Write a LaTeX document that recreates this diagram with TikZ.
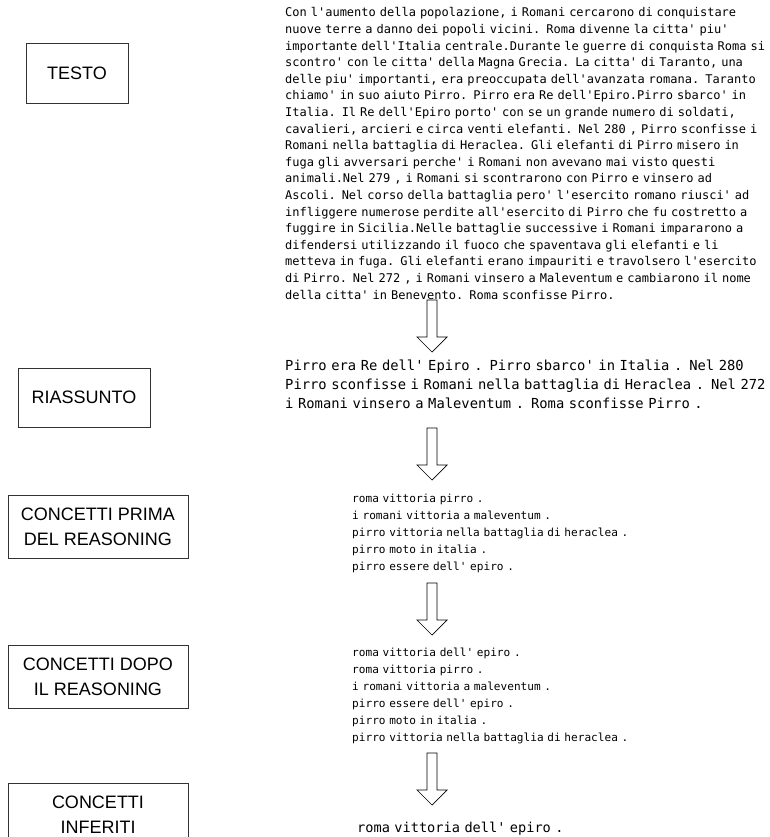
\documentclass[tikz,border=0pt]{standalone}
\usepackage{fontspec}
\setsansfont{Liberation Sans}
\setmonofont{DejaVu Sans Mono}[WordSpace={1,0,0}]

\tikzset{
  etichetta/.style={draw=black!80, line width=0.9pt, align=center,
    font=\sffamily\fontsize{18}{25}\selectfont},
  brano/.style={anchor=base west, inner sep=0pt, align=left, text width=#1,
    font=\ttfamily\fontsize{12}{16.6}\selectfont},
  elenco/.style={anchor=base west, inner sep=0pt, align=left, text width=#1,
    font=\ttfamily\fontsize{11.1}{17}\selectfont},
  grande/.style={anchor=base west, inner sep=0pt, align=left, text width=#1,
    font=\ttfamily\fontsize{13.8}{19}\selectfont},
  freccia/.pic={\draw[line width=0.7pt] (-5,0) -- (5,0) -- (5,37) -- (15,37)
    -- (0,52) -- (-15,37) -- (-5,37) -- cycle;}
}

\begin{document}
\begin{tikzpicture}[x=1pt, y=-1pt]
  \useasboundingbox (0,0) rectangle (770,837);

  % riquadri a sinistra
  \node[etichetta, minimum width=102pt, minimum height=60pt] (testo) at (77,73) {TESTO};
  \node[etichetta, minimum width=132pt, minimum height=59pt] (riassunto) at (84,397.5) {RIASSUNTO};
  \node[etichetta, minimum width=180pt, minimum height=63pt] (prima) at (98,526.5) {CONCETTI PRIMA\\DEL REASONING};
  \node[etichetta, minimum width=180pt, minimum height=63pt] (dopo) at (98,676.5) {CONCETTI DOPO\\IL REASONING};
  \node[etichetta, minimum width=180pt, minimum height=63pt] (inferiti) at (98,814.5) {CONCETTI\\INFERITI};

  % testo originale
  \node[brano=500pt] (brano) at (285,17) {Con l'aumento della popolazione, i Romani cercarono di conquistare\\
nuove terre a danno dei popoli vicini. Roma divenne la citta' piu'\\
importante dell'Italia centrale.Durante le guerre di conquista Roma si\\
scontro' con le citta' della Magna Grecia. La citta' di Taranto, una\\
delle piu' importanti, era preoccupata dell'avanzata romana. Taranto\\
chiamo' in suo aiuto Pirro. Pirro era Re dell'Epiro.Pirro sbarco' in\\
Italia. Il Re dell'Epiro porto' con se un grande numero di soldati,\\
cavalieri, arcieri e circa venti elefanti. Nel 280 , Pirro sconfisse i\\
Romani nella battaglia di Heraclea. Gli elefanti di Pirro misero in\\
fuga gli avversari perche' i Romani non avevano mai visto questi\\
animali.Nel 279 , i Romani si scontrarono con Pirro e vinsero ad\\
Ascoli. Nel corso della battaglia pero' l'esercito romano riusci' ad\\
infliggere numerose perdite all'esercito di Pirro che fu costretto a\\
fuggire in Sicilia.Nelle battaglie successive i Romani impararono a\\
difendersi utilizzando il fuoco che spaventava gli elefanti e li\\
metteva in fuga. Gli elefanti erano impauriti e travolsero l'esercito\\
di Pirro. Nel 272 , i Romani vinsero a Maleventum e cambiarono il nome\\
della citta' in Benevento. Roma sconfisse Pirro.};

  % riassunto
  \node[grande=500pt] (sintesi) at (285,370.5) {Pirro era Re dell' Epiro . Pirro sbarco' in Italia . Nel 280\\
Pirro sconfisse i Romani nella battaglia di Heraclea . Nel 272\\
i Romani vinsero a Maleventum . Roma sconfisse Pirro .};

  % concetti
  \node[elenco=400pt] (listaprima) at (352,502) {roma vittoria pirro .\\
i romani vittoria a maleventum .\\
pirro vittoria nella battaglia di heraclea .\\
pirro moto in italia .\\
pirro essere dell' epiro .};
  \node[elenco=400pt] (listadopo) at (352,656) {roma vittoria dell' epiro .\\
roma vittoria pirro .\\
i romani vittoria a maleventum .\\
pirro essere dell' epiro .\\
pirro moto in italia .\\
pirro vittoria nella battaglia di heraclea .};
  \node[grande=300pt, font=\ttfamily\fontsize{13.6}{19}\selectfont] (risultato) at (357,832) {roma vittoria dell' epiro .};

  % frecce
  \pic at (432,300) {freccia};
  \pic at (432,428) {freccia};
  \pic at (432,583) {freccia};
  \pic at (432,753) {freccia};
\end{tikzpicture}
\end{document}
